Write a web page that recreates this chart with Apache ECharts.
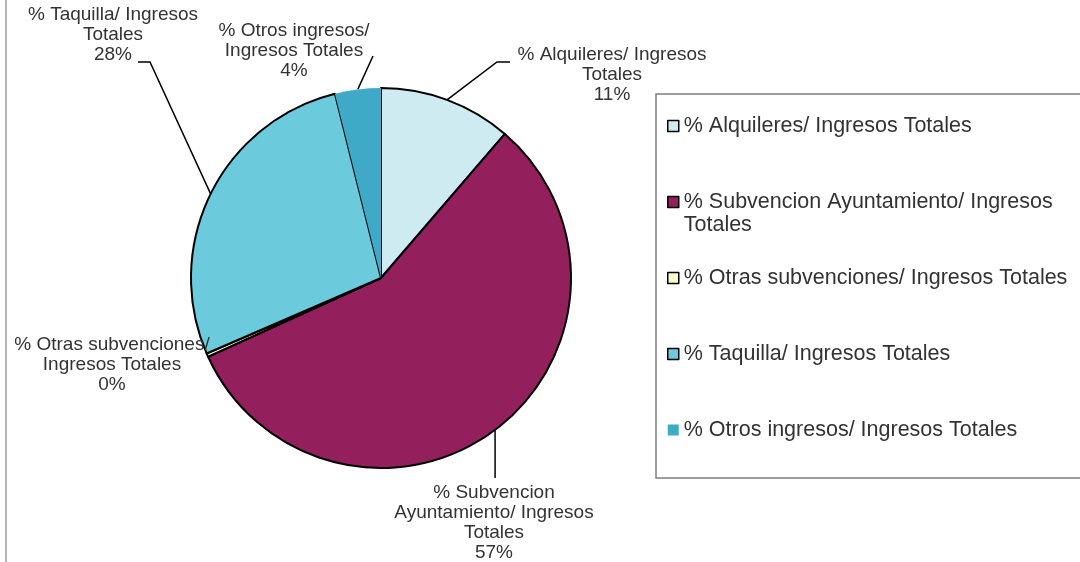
<!DOCTYPE html>
<html>
<head>
<meta charset="utf-8">
<script src="https://cdn.jsdelivr.net/npm/echarts@6/dist/echarts.min.js"></script>
<style>
  html, body { margin: 0; padding: 0; background: #fff; }
  #chart { width: 1080px; height: 562px; }
</style>
</head>
<body>
<div id="chart"></div>
<script>
const categories = [
  '% Alquileres/ Ingresos Totales',
  '% Subvencion Ayuntamiento/ Ingresos Totales',
  '% Otras subvenciones/ Ingresos Totales',
  '% Taquilla/ Ingresos Totales',
  '% Otros ingresos/ Ingresos Totales'
]
const shares = [11.3, 56.9, 0.3, 27.6, 3.9]
const sliceLabels = [
  '% Alquileres/ Ingresos\nTotales',
  '% Subvencion\nAyuntamiento/ Ingresos\nTotales',
  '% Otras subvenciones/\nIngresos Totales',
  '% Taquilla/ Ingresos\nTotales',
  '% Otros ingresos/\nIngresos Totales'
]
// each legend entry is three lines tall so the icon sits on the first text line
const legendLabels = [
  '\n% Alquileres/ Ingresos Totales\n',
  '\n% Subvencion Ayuntamiento/ Ingresos\nTotales',
  '\n% Otras subvenciones/ Ingresos Totales\n',
  '\n% Taquilla/ Ingresos Totales\n',
  '\n% Otros ingresos/ Ingresos Totales\n'
]
const colors = ['#cfebf2', '#931f5d', '#ffffcc', '#6bcadb', '#3fa9c8']

// label placement: text centre x, text top y, bend and end of the leader line
const labelSpots = [
  { x: 612, y: 45, bend: [497, 62], end: [510, 62] },
  { x: 494, y: 483, bend: null, end: null },
  { x: 112, y: 335, bend: [210, 344], end: [210, 344] },
  { x: 113, y: 5, bend: [150, 62], end: [138, 62] },
  { x: 294, y: 21, bend: [373, 56], end: [373, 56] }
]

const font = "'Liberation Sans', Arial, sans-serif"
const chart = echarts.init(document.getElementById('chart'), null, { renderer: 'canvas' })

chart.setOption({
  backgroundColor: '#fff',
  animation: false,
  graphic: [
    { type: 'line', shape: { x1: 6, y1: 0, x2: 6, y2: 562 }, style: { stroke: '#b4b4b4', lineWidth: 2 } },
    { type: 'rect', shape: { x: 656, y: 94, width: 440, height: 384 }, style: { fill: 'none', stroke: '#7f7f7f', lineWidth: 1.5 } }
  ],
  legend: {
    orient: 'vertical', left: 667, top: 91.5, padding: 0, itemGap: 7,
    itemWidth: 11, itemHeight: 11, icon: 'rect', selectedMode: false,
    textStyle: { fontSize: 21.5, lineHeight: 23, color: '#333', fontFamily: font },
    formatter: name => legendLabels[categories.indexOf(name)],
    data: categories.map((name, i) => ({
      name,
      itemStyle: { borderColor: '#000', borderWidth: i === 4 ? 0 : 1.5 }
    }))
  },
  series: [{
    type: 'pie',
    center: [381, 278],
    radius: 190,
    startAngle: 90,
    clockwise: true,
    avoidLabelOverlap: false,
    silent: true,
    emphasis: { disabled: true },
    data: categories.map((name, i) => ({
      name,
      value: shares[i],
      itemStyle: { color: colors[i], borderColor: '#000', borderWidth: i === 4 ? 0 : 2 }
    })),
    label: {
      show: true, position: 'outside',
      formatter: p => sliceLabels[p.dataIndex] + '\n' + Math.round(p.value) + '%',
      fontSize: 19, lineHeight: 20, color: '#333', fontFamily: font, align: 'center'
    },
    labelLine: { show: true, length: 10, length2: 10, lineStyle: { color: '#000', width: 1.5 } },
    labelLayout: p => {
      const spot = labelSpots[p.dataIndex]
      const start = p.labelLinePoints ? p.labelLinePoints[0] : [spot.x, spot.y]
      const bend = spot.bend || [start[0], 478]
      const end = spot.end || [start[0], 478]
      return { x: spot.x, y: spot.y, align: 'center', verticalAlign: 'top', labelLinePoints: [start, bend, end] }
    }
  }]
})
</script>
</body>
</html>
